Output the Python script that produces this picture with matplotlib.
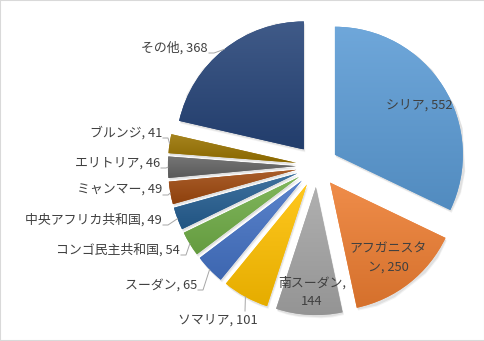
import matplotlib
matplotlib.use("Agg")
import matplotlib.pyplot as plt
import matplotlib.colors as mcolors
from matplotlib.patches import Rectangle
import numpy as np

countries = ["シリア", "アフガニスタン", "南スーダン", "ソマリア", "スーダン", "コンゴ民主共和国",
             "中央アフリカ共和国", "ミャンマー", "エリトリア", "ブルンジ", "その他"]
counts = [552, 250, 144, 101, 65, 54, 49, 49, 46, 41, 368]
colors = ["#5B9BD5", "#ED7D31", "#A5A5A5", "#FFC000", "#4472C4", "#70AD47",
          "#255E91", "#9E480E", "#636363", "#997300", "#264478"]

# pie geometry in pixels (485x341 canvas)
CX, CY, R = 317, 166, 128
EXPLODE = 0.165


def px(x, y):
    # pixel (from top-left) -> data coords
    return (x - CX) / R, (CY - y) / R


def mix(c, other, t):
    c = np.array(mcolors.to_rgb(c))
    return tuple(c * (1 - t) + np.array(other) * t)


plt.rcParams["font.family"] = ["Noto Sans CJK JP", "DejaVu Sans"]

fig = plt.figure(figsize=(4.85, 3.41), dpi=100)
ax = fig.add_axes([0, 0, 1, 1])

wedges, _ = ax.pie(counts, colors=colors, startangle=90, counterclock=False,
                   explode=[EXPLODE] * len(counts), radius=1,
                   wedgeprops=dict(linewidth=0))

# soft shadow + vertical gradient on each slice
for w, c in zip(wedges, colors):
    for off, al in [(0.022, 0.05), (0.014, 0.07)]:
        sh = plt.Polygon(w.get_path().vertices + np.array([off * 0.5, -off]), closed=True,
                         facecolor="#000000", alpha=al, linewidth=0, zorder=0.5)
        ax.add_patch(sh)
    w.set_zorder(1)
    x0, y0, x1, y1 = w.get_path().get_extents().extents
    top = mix(c, (1, 1, 1), 0.12)
    bot = mix(c, (0, 0, 0), 0.10)
    t = np.linspace(0, 1, 64).reshape(-1, 1, 1)
    arr = np.array(top) * (1 - t) + np.array(bot) * t
    im = ax.imshow(arr, extent=(x0, x1, y0, y1), origin="upper", aspect="auto",
                   zorder=1.5, interpolation="bilinear")
    im.set_clip_path(w)

txt = dict(fontsize=9.3, color="#404040")

# labels inside slices
ax.text(*px(419, 105), "シリア, 552", ha="center", va="center", zorder=3, **txt)
ax.text(*px(388, 258), "アフガニスタ\nン, 250", ha="center", va="center",
        linespacing=1.6, zorder=3, **txt)
ax.text(*px(312, 292), "南スーダン,\n144", ha="center", va="center",
        linespacing=1.6, zorder=3, **txt)

# outside labels: (index, right edge x, center y)
outside = [(10, 208, 48), (9, 162, 133), (8, 160, 163), (7, 162, 190),
           (6, 162, 220), (5, 180, 250), (4, 197, 285)]

total = sum(counts)
cum = np.cumsum([0] + counts)
for i, rx, cy in outside:
    mid = 90 - 360 * (cum[i] + counts[i] / 2) / total
    a = np.deg2rad(mid)
    ex, ey = (1 + EXPLODE) * np.cos(a), (1 + EXPLODE) * np.sin(a)
    ax.text(*px(rx, cy), f"{countries[i]}, {counts[i]}", ha="right", va="center", **txt)
    sx, sy = px(rx + 1, cy + 5)
    kx, ky = px(rx + 6, cy + 5)
    ax.plot([sx, kx, ex], [sy, ky, ey], color="#a6a6a6", linewidth=0.7, zorder=2)

# ソマリア label below slice
i = 3
mid = 90 - 360 * (cum[i] + counts[i] / 2) / total
a = np.deg2rad(mid)
ex, ey = (1 + EXPLODE) * np.cos(a), (1 + EXPLODE) * np.sin(a)
ax.text(*px(218, 320), f"{countries[i]}, {counts[i]}", ha="center", va="center", **txt)
lx, ly = px(245, 311)
ax.plot([lx, ex], [ly, ey], color="#a6a6a6", linewidth=0.7, zorder=2)

ax.set_xlim(-CX / R, (485 - CX) / R)
ax.set_ylim(-(341 - CY) / R, CY / R)
ax.axis("off")

fig.patches.append(Rectangle((0, 0), 1, 1, transform=fig.transFigure, fill=False,
                             edgecolor="#d9d9d9", linewidth=1.5))

fig.savefig("out.png", dpi=100)
